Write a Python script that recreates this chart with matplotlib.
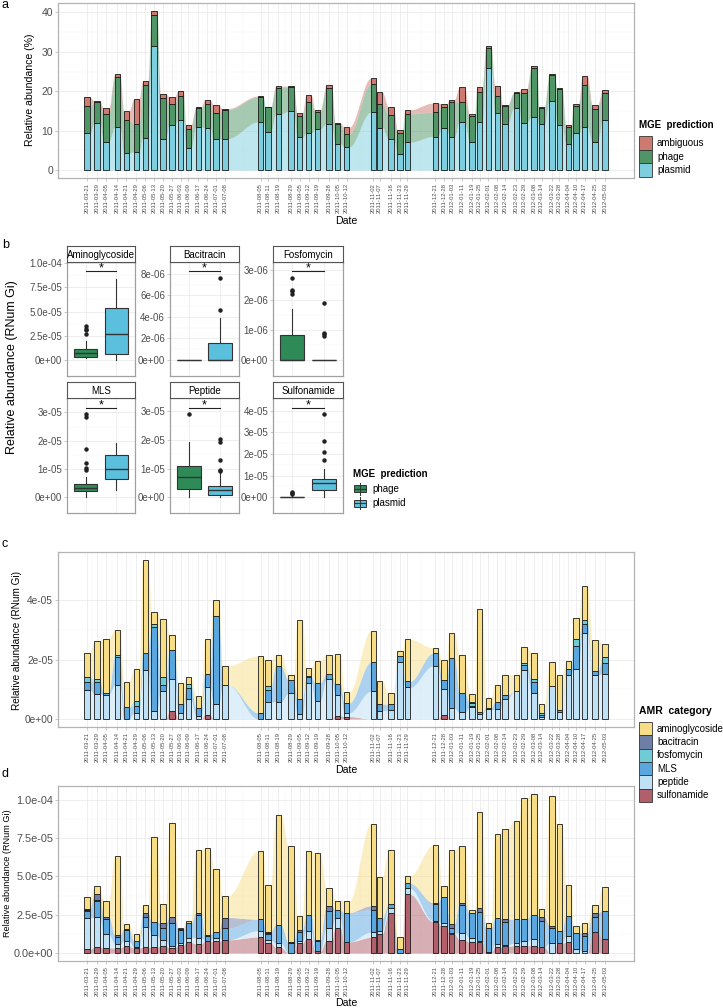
import numpy as np
import pandas as pd
import matplotlib
matplotlib.use("Agg")
import matplotlib.pyplot as plt
import matplotlib.dates as mdates
from matplotlib.patches import Rectangle

plt.rcParams['font.family'] = ['Liberation Sans', 'DejaVu Sans']

# ---------------- data ----------------
dates = ['2011-03-21', '2011-03-29', '2011-04-05', '2011-04-14', '2011-04-21', '2011-04-29',
         '2011-05-06', '2011-05-13', '2011-05-20', '2011-05-27', '2011-06-03', '2011-06-09',
         '2011-06-17', '2011-06-24', '2011-07-01', '2011-07-08',
         '2011-08-05', '2011-08-11', '2011-08-19', '2011-08-29', '2011-09-05', '2011-09-12',
         '2011-09-19', '2011-09-28', '2011-10-05', '2011-10-12',
         '2011-11-02', '2011-11-07', '2011-11-16', '2011-11-23', '2011-11-29',
         '2011-12-21', '2011-12-28', '2012-01-03', '2012-01-11', '2012-01-19', '2012-01-25',
         '2012-02-01', '2012-02-08', '2012-02-14', '2012-02-23', '2012-02-29', '2012-03-08',
         '2012-03-14', '2012-03-22', '2012-03-28', '2012-04-04', '2012-04-10', '2012-04-17',
         '2012-04-25', '2012-05-03']

# panel a: relative abundance (%) by MGE prediction
mge_names = ['ambiguous', 'phage', 'plasmid']
plasmid = [9.3, 12.0, 7.1, 10.9, 4.4, 4.6, 8.2, 31.5, 8.0, 11.5, 12.7, 5.6, 10.9, 10.8, 7.9, 8.0,
           12.2, 9.7, 14.2, 14.9, 8.3, 9.3, 10.4, 11.8, 6.7, 5.9,
           14.7, 10.8, 7.9, 4.2, 7.1,
           8.5, 10.8, 8.5, 12.2, 7.2, 12.3, 26.0, 14.5, 11.7, 15.7, 12.0, 13.5, 11.6, 17.5, 11.5,
           6.7, 9.3, 10.9, 7.1, 12.6]
phage = [6.9, 5.2, 7.2, 12.7, 8.2, 7.1, 13.3, 7.9, 10.3, 5.3, 6.2, 4.9, 4.8, 5.9, 6.6, 7.3,
         6.3, 6.2, 6.7, 6.1, 5.4, 7.9, 4.4, 9.0, 5.1, 3.3,
         7.1, 6.0, 6.1, 5.2, 7.2,
         6.2, 5.2, 8.8, 5.0, 6.5, 7.6, 4.9, 4.3, 4.6, 3.9, 7.5, 12.4, 4.1, 6.6, 9.1,
         4.2, 7.0, 10.7, 8.5, 6.9]
ambiguous = [2.3, 0.3, 1.4, 0.8, 2.3, 6.3, 1.2, 1.0, 1.1, 1.7, 1.3, 1.0, 0.3, 1.2, 2.0, 0.3,
             0.3, 0.1, 0.4, 0.3, 0.8, 1.8, 0.4, 0.8, 0.1, 1.7,
             1.5, 3.0, 2.0, 0.9, 1.0,
             2.3, 0.8, 0.6, 3.8, 0.5, 1.3, 0.7, 2.6, 0.3, 0.1, 1.0, 0.5, 0.4, 0.2, 0.2,
             0.6, 0.5, 2.2, 0.9, 0.7]

# panels c and d: AMR abundance, in units of 1e-5 RNum Gi
amr_names = ['aminoglycoside', 'bacitracin', 'fosfomycin', 'MLS', 'peptide', 'sulfonamide']
c_sulfonamide = [0, 0, 0, 0, 0, 0, 0, 0, 0, .27, 0, 0, 0, .13, 0, 0,
                 0, 0, 0, 0, 0, 0, 0, 0, .11, .08,
                 0, 0, 0, 0, 0,
                 0, .13, 0, 0, 0, 0, 0, 0, 0, 0, 0, 0, 0, 0, 0, 0, 0, 0, 0, 0]
c_peptide = [.98, .84, .82, 1.14, 0, .19, 1.65, .27, .95, 1.09, .19, .66, .10, .93, .50, 1.16,
             0, .58, .58, .86, .16, 1.22, .62, 1.33, .69, .13,
             .93, .28, .30, 1.91, 1.06,
             1.78, .89, .36, .22, .39, .16, .32, .32, .66, .93, 1.66, .86, .08, 1.10, .22,
             1.49, 1.67, 2.88, 1.49, 1.52]
c_mls = [.27, .42, .06, .93, .39, .25, .57, 2.81, .20, .97, .31, .37, .26, .47, 2.95, 0,
         .21, .39, 1.20, .46, .50, .18, .59, .19, .39, .33,
         .98, .22, .19, .22, .21,
         .43, .30, 1.70, .66, .06, .08, .06, .25, .14, 0, .14, .38, .05, 0, .08,
         .20, .77, .31, .11, .37]
c_fosfomycin = [.16, .08, 0, .10, 0, .17, 0, .13, .27, 0, 0, .16, 0, 0, .02, 0,
                0, .14, 0, 0, 0, .03, 0, 0, 0, 0,
                0, 0, 0, 0, 0,
                0, 0, 0, 0, .10, 0, 0, 0, 0, 0, .08, .12, .06, 0, 0,
                0, .25, .14, 0, .21]
c_bacitracin = [0, 0, 0, 0, 0, 0, 0, 0, 0, 0, 0, 0, 0, 0, 0, 0,
                0, 0, 0, 0, 0, 0, 0, 0, 0, 0,
                0, 0, 0, 0, 0,
                0, 0, 0, 0, .03, 0, 0, 0, 0, 0, 0, 0, 0, 0, 0, 0, 0, 0, 0, 0]
c_aminoglycoside = [.81, 1.29, 1.82, .83, .84, 1.07, 3.13, .39, 1.95, .48, .70, .21, .41, 1.17, .55, .63,
                    1.92, .86, .39, .17, 2.68, .29, .75, .64, 1.0, .37,
                    1.06, .79, .37, .17, 1.41,
                    .19, .67, .83, 1.26, .25, 3.45, .31, .59, .69, .56, .53, .86, .33, .82, 1.17,
                    .25, .70, 1.13, 1.07, .42]

d_sulfonamide = [.25, .37, .33, .33, .43, .33, .37, .38, .45, .35, .50, .69, .60, .76, .76, .86,
                 1.04, .65, .37, 0, .65, .93, .11, .80, 1.66, .72,
                 1.02, 1.25, 2.59, 0, 3.82,
                 2.05, 1.73, 1.25, .86, .69, .70, .04, .37, .43, .48, .48, .48, .39, 0, .65,
                 .69, 0, 0, 1.34, .93]
d_peptide = [2.05, 1.96, .91, .26, .37, .04, 1.35, .82, .41, .10, .15, .31, .40, .04, .24, 0,
             .41, .21, .28, 0, .11, .52, 0, .86, .61, 0,
             .34, .20, .33, 0, .39,
             .05, .21, .05, .44, .28, .06, 0, .23, .11, .17, .28, .43, 0, .65, 0,
             .39, .28, .15, 0, 0]
d_mls = [.45, 1.07, .98, .43, .70, .39, .61, .85, .76, 1.49, .85, .94, 1.48, .30, .36, .76,
         .75, .39, 1.19, .65, .58, 1.03, .69, 1.10, .54, 1.92,
         1.45, .82, .25, .28, .33,
         1.07, 1.73, .36, 1.83, 1.62, 1.94, 1.58, 1.67, 1.51, 1.55, 1.46, 1.57, 1.71, .97, .80,
         1.34, 1.02, .98, .99, 1.83]
d_fosfomycin = [.03, .06, 0, .03, 0, 0, 0, 0, 0, 0, .02, 0, .02, 0, 0, 0,
                0, .05, 0, 0, 0, 0, 0, 0, 0, 0,
                0, 0, 0, 0, 0,
                0, 0, 0, 0, 0, 0, 0, 0, 0, 0, 0, 0, 0, 0, 0, 0, 0, 0, 0, 0]
d_bacitracin = [.09, .37, .15, .12, .07, 0, .28, 0, .32, .39, .04, 0, .14, .09, 0, .69,
                0, .10, 0, .04, .17, 0, .06, .33, 0, 0,
                .26, 0, 0, 0, 0,
                .11, 0, .22, .11, 0, .22, 0, 0, .15, 0, 0, 0, .23, .17, 0,
                0, 0, .17, .26, 0]
d_aminoglycoside = [.76, .56, 1.0, 5.18, .32, .46, .52, 5.51, 1.26, 6.14, .04, .16, 4.10, 5.66, 4.10, 1.40,
                    4.45, 3.03, 7.19, 6.29, .93, 4.17, 5.66, 1.12, .60, .77,
                    5.35, 2.70, 3.53, .76, .49,
                    3.74, .71, 4.82, 3.74, .22, 6.26, .37, 5.51, 5.90, 6.40, 7.88, 7.89, .52, 8.47, 6.97,
                    2.01, .43, .69, .54, 1.56]

# panel b: boxplot summaries (whislo, q1, median, q3, whishi)
facets = ['Aminoglycoside', 'Bacitracin', 'Fosfomycin', 'MLS', 'Peptide', 'Sulfonamide']
box_groups = ['phage', 'plasmid']
phage_stats = [(0.17e-5, 0.34e-5, 0.68e-5, 1.1e-5, 2.0e-5),
               (0, 0, 0, 0, 0),
               (0, 0, 0, 0.83e-6, 1.68e-6),
               (0, 0.21e-5, 0.33e-5, 0.45e-5, 0.71e-5),
               (0, 0.29e-5, 0.70e-5, 1.11e-5, 1.93e-5),
               (0, 0, 0, 0.02e-5, 0.05e-5)]
plasmid_stats = [(0, 0.62e-5, 2.67e-5, 5.4e-5, 8.4e-5),
                 (0, 0, 0, 1.55e-6, 3.85e-6),
                 (0, 0, 0, 0, 0),
                 (0.25e-5, 0.63e-5, 0.98e-5, 1.48e-5, 1.93e-5),
                 (0, 0.07e-5, 0.25e-5, 0.41e-5, 0.85e-5),
                 (0, 0.33e-5, 0.64e-5, 0.85e-5, 1.32e-5)]
phage_outliers = [[2.7e-5, 3.1e-5, 3.25e-5, 3.5e-5],
                  [],
                  [2.18e-6, 2.29e-6, 2.32e-6, 2.72e-6],
                  [0.96e-5, 1.02e-5, 1.22e-5, 1.7e-5, 2.82e-5, 2.94e-5],
                  [2.9e-5],
                  [0.15e-5, 0.2e-5, 0.23e-5]]
plasmid_outliers = [[],
                    [4.6e-6, 7.6e-6],
                    [0.79e-6, 0.85e-6, 0.9e-6, 1.9e-6],
                    [],
                    [0.91e-5, 0.97e-5, 1.32e-5, 1.93e-5, 2.05e-5],
                    [1.7e-5, 2.09e-5, 2.6e-5, 3.84e-5]]
sig_level = [9.2e-5, 8.25e-6, 2.95e-6, 3.15e-5, 3.12e-5, 4.12e-5]
b_ylim = [(-1.64e-5, 1.01e-4), (-1.5e-6, 9.1e-6), (-0.53e-6, 3.25e-6),
          (-0.56e-5, 3.51e-5), (-0.55e-5, 3.47e-5), (-0.73e-5, 4.59e-5)]
b_yticks = [[0, 2.5e-5, 5e-5, 7.5e-5, 1e-4], [0, 2e-6, 4e-6, 6e-6, 8e-6], [0, 1e-6, 2e-6, 3e-6],
            [0, 1e-5, 2e-5, 3e-5], [0, 1e-5, 2e-5, 3e-5], [0, 1e-5, 2e-5, 3e-5, 4e-5]]
b_ylabels = [['0e+00', '2.5e-05', '5.0e-05', '7.5e-05', '1.0e-04'],
             ['0e+00', '2e-06', '4e-06', '6e-06', '8e-06'],
             ['0e+00', '1e-06', '2e-06', '3e-06'],
             ['0e+00', '1e-05', '2e-05', '3e-05'],
             ['0e+00', '1e-05', '2e-05', '3e-05'],
             ['0e+00', '1e-05', '2e-05', '3e-05', '4e-05']]

# ---------------- style ----------------
mge_colors = {'ambiguous': '#CD7A70', 'phage': '#4F9566', 'plasmid': '#7DCFE0'}
box_colors = {'phage': '#2E8B57', 'plasmid': '#5BC0DE'}
amr_colors = {'aminoglycoside': '#F7DE86', 'bacitracin': '#6E7FA7', 'fosfomycin': '#6FCCD6',
              'MLS': '#5AA7E0', 'peptide': '#BFE1F5', 'sulfonamide': '#B15F6B'}
GRID = '#EBEBEB'
GRID_MINOR = '#F5F5F5'
BORDER = '#B3B3B3'
TICKTXT = '#4D4D4D'
EDGE = '#1A1A1A'

W, H = 723, 1008
fig = plt.figure(figsize=(W / 100, H / 100), dpi=100)


def box(x0, y0, x1, y1):
    return [x0 / W, 1 - y1 / H, (x1 - x0) / W, (y1 - y0) / H]


def ftext(x, y, s, **kw):
    fig.text(x / W, 1 - y / H, s, **kw)


xd = mdates.date2num(pd.to_datetime(dates))
BAR_W = 4.3
pad = 0.05 * (xd[-1] - xd[0]) + BAR_W / 2 + 0.3


def flow_profile(x, y, w):
    # flat across each bar, s-shaped between neighbouring bar edges
    t = np.linspace(0, 1, 40)[1:-1]
    s = t * t * (3 - 2 * t)
    xs, ys = [], []
    for i in range(len(x)):
        xs += [x[i] - w / 2, x[i] + w / 2]
        ys += [y[i], y[i]]
        if i < len(x) - 1:
            a, b = x[i] + w / 2, x[i + 1] - w / 2
            xs += list(a + (b - a) * t)
            ys += list(y[i] + (y[i + 1] - y[i]) * s)
    return np.array(xs), np.array(ys)


def stacked(ax, layers, colors):
    bottom = np.zeros(len(xd))
    for vals, col in zip(layers, colors):
        vals = np.asarray(vals, dtype=float)
        top = bottom + vals
        px, lo = flow_profile(xd, bottom, BAR_W)
        _, hi = flow_profile(xd, top, BAR_W)
        ax.fill_between(px, lo, hi, color=col, alpha=0.5, lw=0, zorder=1)
        m = vals > 0
        ax.bar(xd[m], vals[m], width=BAR_W, bottom=bottom[m], color=col,
               edgecolor=EDGE, lw=0.6, zorder=2)
        bottom = top


def date_axis(ax, ylim, yticks, ylabels, ysize):
    ax.set_xlim(xd[0] - pad, xd[-1] + pad)
    ax.set_ylim(*ylim)
    ax.set_xticks(xd)
    ax.set_xticklabels(dates, rotation=90, fontsize=4.2, color=TICKTXT)
    ax.set_xticks((xd[:-1] + xd[1:]) / 2, minor=True)
    ax.set_yticks(yticks)
    ax.set_yticklabels(ylabels, fontsize=ysize, color=TICKTXT)
    yt = np.asarray(yticks)
    ax.set_yticks((yt[:-1] + yt[1:]) / 2, minor=True)
    ax.grid(which='major', color=GRID, lw=0.6)
    ax.grid(which='minor', color=GRID_MINOR, lw=0.35)
    ax.tick_params(which='minor', length=0)
    ax.tick_params(which='major', length=2, color=BORDER, width=0.5, pad=1.5)
    for sp in ax.spines.values():
        sp.set_color(BORDER)
        sp.set_linewidth(0.9)
    ax.set_axisbelow(True)


def square_legend(x, y, title, names, colors, step, tsize, lsize):
    ftext(x, y, title, fontsize=tsize, fontweight='bold', va='baseline')
    y0 = y + 8
    for i, n in enumerate(names):
        fig.patches.append(Rectangle((x / W, 1 - (y0 + (i + 1) * step) / H), 13 / W, step / H,
                                     transform=fig.transFigure, facecolor=colors[n],
                                     edgecolor='#333333', lw=0.6))
        ftext(x + 18, y0 + (i + 0.5) * step, n, fontsize=lsize, va='center')


# ---------------- panel a ----------------
ax_a = fig.add_axes(box(58, 3, 634, 178))
stacked(ax_a, [plasmid, phage, ambiguous], [mge_colors['plasmid'], mge_colors['phage'], mge_colors['ambiguous']])
date_axis(ax_a, (-2.0, 42.4), [0, 10, 20, 30, 40], ['0', '10', '20', '30', '40'], 7.5)
ftext(30, 90, 'Relative abundance (%)', rotation=90, ha='center', va='center', fontsize=7.6)
ftext(346, 224, 'Date', ha='center', va='baseline', fontsize=7.6)
ftext(2, 7.5, 'a', fontsize=9, va='baseline')
square_legend(639, 128, 'MGE  prediction', mge_names, mge_colors, 13.7, 7, 7)

# ---------------- panel b ----------------
cols = [(67, 135), (170, 239), (273, 343)]
rows = [((246, 262), (262, 376)), ((382, 398), (398, 513))]
for k, name in enumerate(facets):
    (sx0, sx1) = cols[k % 3]
    (st, pn) = rows[k // 3]
    ax = fig.add_axes(box(sx0, pn[0], sx1, pn[1]))
    stats = [phage_stats[k], plasmid_stats[k]]
    outs = [phage_outliers[k], plasmid_outliers[k]]
    bxp = []
    for g, (st5, ol) in enumerate(zip(stats, outs)):
        bxp.append(dict(whislo=st5[0], q1=st5[1], med=st5[2], q3=st5[3], whishi=st5[4],
                        fliers=ol, label=box_groups[g]))
    art = ax.bxp(bxp, positions=[1, 2], widths=0.75, patch_artist=True, showcaps=False,
                 boxprops=dict(edgecolor='#333333', lw=0.8),
                 medianprops=dict(color='#333333', lw=1.0),
                 whiskerprops=dict(color='#333333', lw=0.8),
                 flierprops=dict(marker='o', markerfacecolor='#222222', markeredgecolor='#222222',
                                 markersize=2.2))
    for patch, g in zip(art['boxes'], box_groups):
        patch.set_facecolor(box_colors[g])
    ax.plot([1, 2], [sig_level[k]] * 2, color='#222222', lw=0.8)
    ax.annotate('*', (1.5, sig_level[k]), xytext=(0, -2.5), textcoords='offset points',
                ha='center', va='bottom', fontsize=9, annotation_clip=False)
    ax.set_xlim(0.4, 2.6)
    ax.set_ylim(*b_ylim[k])
    ax.set_xticks([1, 2])
    ax.set_xticklabels([])
    ax.set_yticks(b_yticks[k])
    ax.set_yticklabels(b_ylabels[k], fontsize=7, color=TICKTXT)
    yt = np.asarray(b_yticks[k])
    ax.set_yticks((yt[:-1] + yt[1:]) / 2, minor=True)
    ax.grid(which='major', color=GRID, lw=0.6)
    ax.grid(which='minor', axis='y', color=GRID_MINOR, lw=0.35)
    ax.tick_params(which='minor', length=0)
    ax.tick_params(axis='x', length=0)
    ax.tick_params(axis='y', length=2, color=BORDER, width=0.5, pad=1.5)
    ax.set_axisbelow(True)
    for sp in ax.spines.values():
        sp.set_color('#A0A0A0')
        sp.set_linewidth(0.9)
    sax = fig.add_axes(box(sx0, st[0], sx1, st[1]))
    sax.set_xticks([])
    sax.set_yticks([])
    sax.set_facecolor('white')
    for sp in sax.spines.values():
        sp.set_color('#555555')
        sp.set_linewidth(0.8)
    sax.text(0.5, 0.45, name, ha='center', va='center', fontsize=7, transform=sax.transAxes)

ftext(12, 367, 'Relative abundance (RNum Gi)', rotation=90, ha='center', va='center', fontsize=9)
ftext(2, 248, 'b', fontsize=9, va='baseline')
ftext(353, 477, 'MGE  prediction', fontsize=7, fontweight='bold', va='baseline')
for i, g in enumerate(box_groups):
    yc = 489 + i * 14
    fig.add_artist(plt.Line2D([360 / W, 360 / W], [1 - (yc - 6) / H, 1 - (yc + 6) / H],
                              color='#333333', lw=0.7))
    fig.patches.append(Rectangle((354 / W, 1 - (yc + 3.5) / H), 12 / W, 7 / H,
                                 transform=fig.transFigure, facecolor=box_colors[g],
                                 edgecolor='#333333', lw=0.7))
    fig.add_artist(plt.Line2D([354 / W, 366 / W], [1 - yc / H] * 2, color='#333333', lw=0.8))
    ftext(372, yc, g, fontsize=7, va='center')

# ---------------- panel c ----------------
ax_c = fig.add_axes(box(58, 552, 634, 727))
stacked(ax_c, [c_sulfonamide, c_peptide, c_mls, c_fosfomycin, c_bacitracin, c_aminoglycoside],
        [amr_colors[n] for n in amr_names[::-1]])
date_axis(ax_c, (-0.27, 5.62), [0, 2, 4], ['0e+00', '2e-05', '4e-05'], 7.3)
ftext(17, 640, 'Relative abundance (RNum Gi)', rotation=90, ha='center', va='center', fontsize=7.2)
ftext(346, 773, 'Date', ha='center', va='baseline', fontsize=7.6)
ftext(2, 547, 'c', fontsize=9, va='baseline')
square_legend(639, 714, 'AMR  category', amr_names, amr_colors, 13.3, 7.5, 7)

# ---------------- panel d ----------------
ax_d = fig.add_axes(box(58, 786, 634, 961))
stacked(ax_d, [d_sulfonamide, d_peptide, d_mls, d_fosfomycin, d_bacitracin, d_aminoglycoside],
        [amr_colors[n] for n in amr_names[::-1]])
date_axis(ax_d, (-0.52, 10.89), [0, 2.5, 5, 7.5, 10],
          ['0.0e+00', '2.5e-05', '5.0e-05', '7.5e-05', '1.0e-04'], 7.8)
ftext(8, 873, 'Relative abundance (RNum Gi)', rotation=90, ha='center', va='center', fontsize=6.6)
ftext(346, 1006, 'Date', ha='center', va='baseline', fontsize=7.6)
ftext(2, 777, 'd', fontsize=9, va='baseline')

fig.savefig('out.png', dpi=100)
